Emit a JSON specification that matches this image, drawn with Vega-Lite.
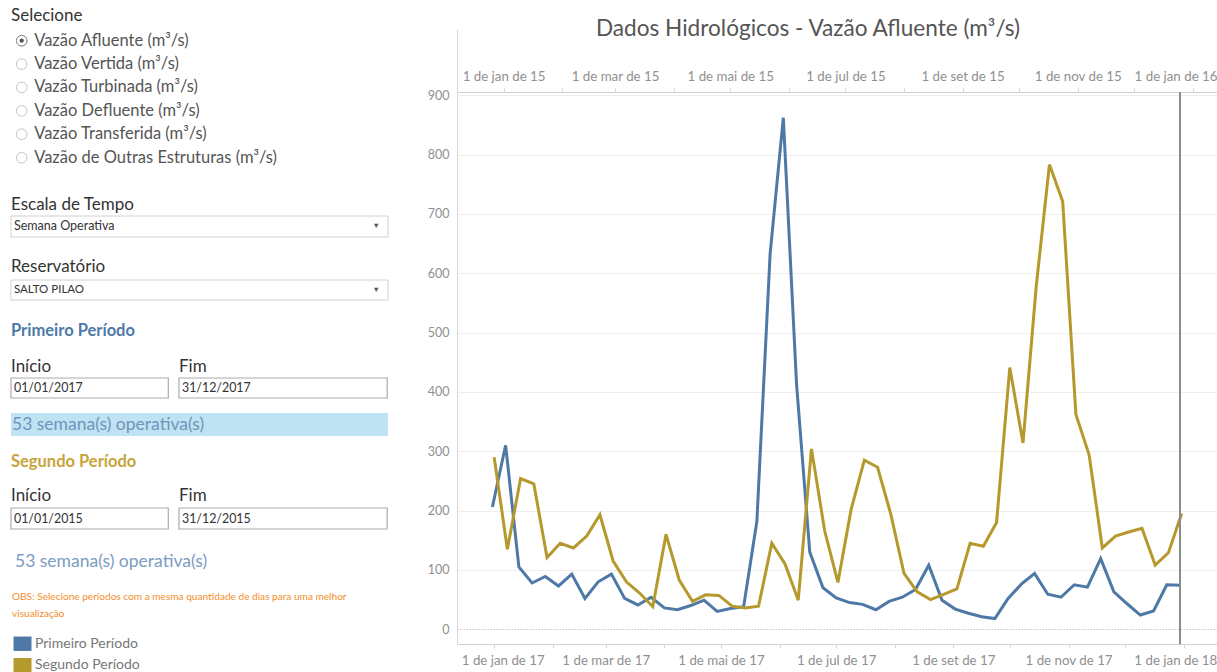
{
  "$schema": "https://vega.github.io/schema/vega-lite/v6.json",
  "background": "white",
  "padding": {"left": 10, "top": 7, "right": 0, "bottom": 0},
  "spacing": 38,
  "config": {
    "view": {"stroke": null},
    "font": "Lato",
    "text": {"font": "Lato"},
    "title": {"font": "Lato", "fontWeight": "normal", "anchor": "start", "frame": "group", "color": "#333333"}
  },
  "datasets": {
    "opcoes": [
      {"opcao": "Vazão Afluente (m³/s)", "selecionado": true},
      {"opcao": "Vazão Vertida (m³/s)", "selecionado": false},
      {"opcao": "Vazão Turbinada (m³/s)", "selecionado": false},
      {"opcao": "Vazão Defluente (m³/s)", "selecionado": false},
      {"opcao": "Vazão Transferida (m³/s)", "selecionado": false},
      {"opcao": "Vazão de Outras Estruturas (m³/s)", "selecionado": false}
    ],
    "primeiro": [
      {"periodo": "Primeiro Período", "semana": "2016-12-31", "vazao": 206},
      {"periodo": "Primeiro Período", "semana": "2017-01-07", "vazao": 310},
      {"periodo": "Primeiro Período", "semana": "2017-01-14", "vazao": 105},
      {"periodo": "Primeiro Período", "semana": "2017-01-21", "vazao": 78},
      {"periodo": "Primeiro Período", "semana": "2017-01-28", "vazao": 89},
      {"periodo": "Primeiro Período", "semana": "2017-02-04", "vazao": 73},
      {"periodo": "Primeiro Período", "semana": "2017-02-11", "vazao": 93},
      {"periodo": "Primeiro Período", "semana": "2017-02-18", "vazao": 52},
      {"periodo": "Primeiro Período", "semana": "2017-02-25", "vazao": 80},
      {"periodo": "Primeiro Período", "semana": "2017-03-04", "vazao": 93},
      {"periodo": "Primeiro Período", "semana": "2017-03-11", "vazao": 52},
      {"periodo": "Primeiro Período", "semana": "2017-03-18", "vazao": 41},
      {"periodo": "Primeiro Período", "semana": "2017-03-25", "vazao": 54},
      {"periodo": "Primeiro Período", "semana": "2017-04-01", "vazao": 36},
      {"periodo": "Primeiro Período", "semana": "2017-04-08", "vazao": 33},
      {"periodo": "Primeiro Período", "semana": "2017-04-15", "vazao": 40},
      {"periodo": "Primeiro Período", "semana": "2017-04-22", "vazao": 49},
      {"periodo": "Primeiro Período", "semana": "2017-04-29", "vazao": 30},
      {"periodo": "Primeiro Período", "semana": "2017-05-06", "vazao": 35},
      {"periodo": "Primeiro Período", "semana": "2017-05-13", "vazao": 38},
      {"periodo": "Primeiro Período", "semana": "2017-05-20", "vazao": 182},
      {"periodo": "Primeiro Período", "semana": "2017-05-27", "vazao": 632},
      {"periodo": "Primeiro Período", "semana": "2017-06-03", "vazao": 862},
      {"periodo": "Primeiro Período", "semana": "2017-06-10", "vazao": 413},
      {"periodo": "Primeiro Período", "semana": "2017-06-17", "vazao": 130},
      {"periodo": "Primeiro Período", "semana": "2017-06-24", "vazao": 70},
      {"periodo": "Primeiro Período", "semana": "2017-07-01", "vazao": 53},
      {"periodo": "Primeiro Período", "semana": "2017-07-08", "vazao": 45},
      {"periodo": "Primeiro Período", "semana": "2017-07-15", "vazao": 42},
      {"periodo": "Primeiro Período", "semana": "2017-07-22", "vazao": 33},
      {"periodo": "Primeiro Período", "semana": "2017-07-29", "vazao": 47},
      {"periodo": "Primeiro Período", "semana": "2017-08-05", "vazao": 54},
      {"periodo": "Primeiro Período", "semana": "2017-08-12", "vazao": 67},
      {"periodo": "Primeiro Período", "semana": "2017-08-19", "vazao": 108},
      {"periodo": "Primeiro Período", "semana": "2017-08-26", "vazao": 49},
      {"periodo": "Primeiro Período", "semana": "2017-09-02", "vazao": 34},
      {"periodo": "Primeiro Período", "semana": "2017-09-09", "vazao": 27},
      {"periodo": "Primeiro Período", "semana": "2017-09-16", "vazao": 21},
      {"periodo": "Primeiro Período", "semana": "2017-09-23", "vazao": 18},
      {"periodo": "Primeiro Período", "semana": "2017-09-30", "vazao": 52},
      {"periodo": "Primeiro Período", "semana": "2017-10-07", "vazao": 76},
      {"periodo": "Primeiro Período", "semana": "2017-10-14", "vazao": 94},
      {"periodo": "Primeiro Período", "semana": "2017-10-21", "vazao": 59},
      {"periodo": "Primeiro Período", "semana": "2017-10-28", "vazao": 54},
      {"periodo": "Primeiro Período", "semana": "2017-11-04", "vazao": 75},
      {"periodo": "Primeiro Período", "semana": "2017-11-11", "vazao": 71},
      {"periodo": "Primeiro Período", "semana": "2017-11-18", "vazao": 119},
      {"periodo": "Primeiro Período", "semana": "2017-11-25", "vazao": 63},
      {"periodo": "Primeiro Período", "semana": "2017-12-02", "vazao": 43},
      {"periodo": "Primeiro Período", "semana": "2017-12-09", "vazao": 24},
      {"periodo": "Primeiro Período", "semana": "2017-12-16", "vazao": 31},
      {"periodo": "Primeiro Período", "semana": "2017-12-23", "vazao": 75},
      {"periodo": "Primeiro Período", "semana": "2017-12-30", "vazao": 74}
    ],
    "segundo": [
      {"periodo": "Segundo Período", "semana": "2014-12-27", "vazao": 290},
      {"periodo": "Segundo Período", "semana": "2015-01-03", "vazao": 135},
      {"periodo": "Segundo Período", "semana": "2015-01-10", "vazao": 254},
      {"periodo": "Segundo Período", "semana": "2015-01-17", "vazao": 245},
      {"periodo": "Segundo Período", "semana": "2015-01-24", "vazao": 121},
      {"periodo": "Segundo Período", "semana": "2015-01-31", "vazao": 145},
      {"periodo": "Segundo Período", "semana": "2015-02-07", "vazao": 137},
      {"periodo": "Segundo Período", "semana": "2015-02-14", "vazao": 157},
      {"periodo": "Segundo Período", "semana": "2015-02-21", "vazao": 193},
      {"periodo": "Segundo Período", "semana": "2015-02-28", "vazao": 115},
      {"periodo": "Segundo Período", "semana": "2015-03-07", "vazao": 80},
      {"periodo": "Segundo Período", "semana": "2015-03-14", "vazao": 61},
      {"periodo": "Segundo Período", "semana": "2015-03-21", "vazao": 38},
      {"periodo": "Segundo Período", "semana": "2015-03-28", "vazao": 160},
      {"periodo": "Segundo Período", "semana": "2015-04-04", "vazao": 83},
      {"periodo": "Segundo Período", "semana": "2015-04-11", "vazao": 47},
      {"periodo": "Segundo Período", "semana": "2015-04-18", "vazao": 58},
      {"periodo": "Segundo Período", "semana": "2015-04-25", "vazao": 57},
      {"periodo": "Segundo Período", "semana": "2015-05-02", "vazao": 39},
      {"periodo": "Segundo Período", "semana": "2015-05-09", "vazao": 36},
      {"periodo": "Segundo Período", "semana": "2015-05-16", "vazao": 39},
      {"periodo": "Segundo Período", "semana": "2015-05-23", "vazao": 145},
      {"periodo": "Segundo Período", "semana": "2015-05-30", "vazao": 110},
      {"periodo": "Segundo Período", "semana": "2015-06-06", "vazao": 49},
      {"periodo": "Segundo Período", "semana": "2015-06-13", "vazao": 304},
      {"periodo": "Segundo Período", "semana": "2015-06-20", "vazao": 166},
      {"periodo": "Segundo Período", "semana": "2015-06-27", "vazao": 79},
      {"periodo": "Segundo Período", "semana": "2015-07-04", "vazao": 202},
      {"periodo": "Segundo Período", "semana": "2015-07-11", "vazao": 285},
      {"periodo": "Segundo Período", "semana": "2015-07-18", "vazao": 273},
      {"periodo": "Segundo Período", "semana": "2015-07-25", "vazao": 194},
      {"periodo": "Segundo Período", "semana": "2015-08-01", "vazao": 94},
      {"periodo": "Segundo Período", "semana": "2015-08-08", "vazao": 63},
      {"periodo": "Segundo Período", "semana": "2015-08-15", "vazao": 50},
      {"periodo": "Segundo Período", "semana": "2015-08-22", "vazao": 59},
      {"periodo": "Segundo Período", "semana": "2015-08-29", "vazao": 68},
      {"periodo": "Segundo Período", "semana": "2015-09-05", "vazao": 145},
      {"periodo": "Segundo Período", "semana": "2015-09-12", "vazao": 140},
      {"periodo": "Segundo Período", "semana": "2015-09-19", "vazao": 180},
      {"periodo": "Segundo Período", "semana": "2015-09-26", "vazao": 441},
      {"periodo": "Segundo Período", "semana": "2015-10-03", "vazao": 314},
      {"periodo": "Segundo Período", "semana": "2015-10-10", "vazao": 578},
      {"periodo": "Segundo Período", "semana": "2015-10-17", "vazao": 783},
      {"periodo": "Segundo Período", "semana": "2015-10-24", "vazao": 721},
      {"periodo": "Segundo Período", "semana": "2015-10-31", "vazao": 362},
      {"periodo": "Segundo Período", "semana": "2015-11-07", "vazao": 294},
      {"periodo": "Segundo Período", "semana": "2015-11-14", "vazao": 137},
      {"periodo": "Segundo Período", "semana": "2015-11-21", "vazao": 157},
      {"periodo": "Segundo Período", "semana": "2015-11-28", "vazao": 164},
      {"periodo": "Segundo Período", "semana": "2015-12-05", "vazao": 170},
      {"periodo": "Segundo Período", "semana": "2015-12-12", "vazao": 108},
      {"periodo": "Segundo Período", "semana": "2015-12-19", "vazao": 129},
      {"periodo": "Segundo Período", "semana": "2015-12-26", "vazao": 195}
    ]
  },
  "hconcat": [
    {
      "spacing": 0,
      "vconcat": [
        {
          "width": 21.4, "height": 167,
          "title": {"text": "Selecione", "fontSize": 17, "offset": 4},
          "data": {"name": "opcoes"},
          "encoding": {"y": {"field": "opcao", "type": "nominal", "sort": null, "axis": null, "scale": {"type": "band", "paddingInner": 0, "paddingOuter": 0.5684, "align": 0}}},
          "layer": [
            {"mark": {"type": "point", "shape": "circle", "filled": true, "fill": "white", "stroke": "#c4c4c4", "strokeWidth": 1, "size": 113, "opacity": 1}},
            {"transform": [{"filter": "datum.selecionado"}], "mark": {"type": "point", "shape": "circle", "filled": false, "stroke": "#8a8a8a", "strokeWidth": 1, "size": 113, "opacity": 1}},
            {"transform": [{"filter": "datum.selecionado"}], "mark": {"type": "point", "shape": "circle", "filled": true, "color": "#555555", "size": 18, "opacity": 1}},
            {"mark": {"type": "text", "align": "left", "dx": 12.5, "fontSize": 16.5, "color": "#555555"}, "encoding": {"text": {"field": "opcao"}}}
          ]
        },
        {
          "width": 377, "height": 41,
          "title": {"text": "Escala de Tempo", "fontSize": 17, "offset": 1.5},
          "data": {"values": [{"controle": "Escala de Tempo", "valor": "Semana Operativa"}]},
          "encoding": {"y": {"field": "controle", "type": "nominal", "axis": null, "scale": {"type": "band", "paddingInner": 0, "paddingOuter": 0.4762, "align": 0}}},
          "layer": [
            {"mark": {"type": "rect", "fill": "white", "stroke": "#d0d0d0", "strokeWidth": 1}},
            {"mark": {"type": "text", "align": "left", "dx": 3, "fontSize": 12.5, "color": "#333333"}, "encoding": {"x": {"field": "valor", "type": "nominal", "axis": null, "scale": {"type": "point", "padding": 0, "align": 0}}, "text": {"field": "valor"}}},
            {"mark": {"type": "text", "align": "right", "dx": -8, "fontSize": 7.5, "color": "#555555"}, "encoding": {"x": {"datum": "▼", "type": "nominal", "axis": null}, "text": {"value": "▼"}}}
          ]
        },
        {
          "width": 377, "height": 43,
          "title": {"text": "Reservatório", "fontSize": 17, "offset": 4},
          "data": {"values": [{"controle": "Reservatório", "valor": "SALTO PILAO"}]},
          "encoding": {"y": {"field": "controle", "type": "nominal", "axis": null, "scale": {"type": "band", "paddingInner": 0, "paddingOuter": 0.575, "align": 0}}},
          "layer": [
            {"mark": {"type": "rect", "fill": "white", "stroke": "#d0d0d0", "strokeWidth": 1}},
            {"mark": {"type": "text", "align": "left", "dx": 3, "fontSize": 11.5, "color": "#333333"}, "encoding": {"x": {"field": "valor", "type": "nominal", "axis": null, "scale": {"type": "point", "padding": 0, "align": 0}}, "text": {"field": "valor"}}},
            {"mark": {"type": "text", "align": "right", "dx": -8, "fontSize": 7.5, "color": "#555555"}, "encoding": {"x": {"datum": "▼", "type": "nominal", "axis": null}, "text": {"value": "▼"}}}
          ]
        },
        {
          "title": {"text": "Primeiro Período", "fontSize": 16.5, "fontWeight": "bold", "color": "#4e79a7", "offset": 18.2},
          "spacing": 9,
          "hconcat": [
            {
              "width": 157.3, "height": 35,
              "title": {"text": "Início", "fontSize": 17, "offset": 1.3},
              "data": {"values": [{"campo": "Início", "valor": "01/01/2017"}]},
              "encoding": {"y": {"field": "campo", "type": "nominal", "axis": null, "scale": {"type": "band", "paddingInner": 0, "paddingOuter": 0.375, "align": 0}}},
              "layer": [
                {"mark": {"type": "rect", "fill": "white", "stroke": "#ababab", "strokeWidth": 1.2}},
                {"mark": {"type": "text", "align": "left", "dx": 3, "fontSize": 12.4, "color": "#333333"}, "encoding": {"x": {"field": "valor", "type": "nominal", "axis": null, "scale": {"type": "point", "padding": 0, "align": 0}}, "text": {"field": "valor"}}}
              ]
            },
            {
              "width": 208.2, "height": 35,
              "title": {"text": "Fim", "fontSize": 17, "offset": 1.3},
              "data": {"values": [{"campo": "Fim", "valor": "31/12/2017"}]},
              "encoding": {"y": {"field": "campo", "type": "nominal", "axis": null, "scale": {"type": "band", "paddingInner": 0, "paddingOuter": 0.375, "align": 0}}},
              "layer": [
                {"mark": {"type": "rect", "fill": "white", "stroke": "#ababab", "strokeWidth": 1.2}},
                {"mark": {"type": "text", "align": "left", "dx": 3, "fontSize": 12.4, "color": "#333333"}, "encoding": {"x": {"field": "valor", "type": "nominal", "axis": null, "scale": {"type": "point", "padding": 0, "align": 0}}, "text": {"field": "valor"}}}
              ]
            }
          ]
        },
        {
          "width": 377, "height": 41,
          "data": {"values": [{"periodo": "Primeiro Período", "resumo": "53 semana(s) operativa(s)"}]},
          "encoding": {"y": {"field": "resumo", "type": "nominal", "axis": null, "scale": {"type": "band", "paddingInner": 0, "paddingOuter": 0.3913, "align": 0}}},
          "layer": [
            {"mark": {"type": "rect", "fill": "#bfe3f2"}},
            {"mark": {"type": "text", "align": "left", "dx": 1, "fontSize": 17.5, "color": "#6f94bb"}, "encoding": {"x": {"field": "resumo", "type": "nominal", "axis": null, "scale": {"type": "point", "padding": 0, "align": 0}}, "text": {"field": "resumo"}}}
          ]
        },
        {
          "title": {"text": "Segundo Período", "fontSize": 16.5, "fontWeight": "bold", "color": "#c6a43a", "offset": 16.2},
          "spacing": 9,
          "hconcat": [
            {
              "width": 157.3, "height": 43,
              "title": {"text": "Início", "fontSize": 17, "offset": 2.4},
              "data": {"values": [{"campo": "Início", "valor": "01/01/2015"}]},
              "encoding": {"y": {"field": "campo", "type": "nominal", "axis": null, "scale": {"type": "band", "paddingInner": 0, "paddingOuter": 0.5238, "align": 0}}},
              "layer": [
                {"mark": {"type": "rect", "fill": "white", "stroke": "#ababab", "strokeWidth": 1.2}},
                {"mark": {"type": "text", "align": "left", "dx": 3, "fontSize": 12.4, "color": "#333333"}, "encoding": {"x": {"field": "valor", "type": "nominal", "axis": null, "scale": {"type": "point", "padding": 0, "align": 0}}, "text": {"field": "valor"}}}
              ]
            },
            {
              "width": 208.2, "height": 43,
              "title": {"text": "Fim", "fontSize": 17, "offset": 2.4},
              "data": {"values": [{"campo": "Fim", "valor": "31/12/2015"}]},
              "encoding": {"y": {"field": "campo", "type": "nominal", "axis": null, "scale": {"type": "band", "paddingInner": 0, "paddingOuter": 0.5238, "align": 0}}},
              "layer": [
                {"mark": {"type": "rect", "fill": "white", "stroke": "#ababab", "strokeWidth": 1.2}},
                {"mark": {"type": "text", "align": "left", "dx": 3, "fontSize": 12.4, "color": "#333333"}, "encoding": {"x": {"field": "valor", "type": "nominal", "axis": null, "scale": {"type": "point", "padding": 0, "align": 0}}, "text": {"field": "valor"}}}
              ]
            }
          ]
        },
        {
          "width": 1, "height": 38,
          "data": {"values": [{"periodo": "Segundo Período", "resumo": "53 semana(s) operativa(s)"}]},
          "encoding": {"y": {"field": "resumo", "type": "nominal", "axis": null, "scale": {"type": "band", "paddingInner": 0, "paddingOuter": 0.3261, "align": 0}}, "text": {"field": "resumo"}},
          "mark": {"type": "text", "align": "left", "dx": 3.5, "fontSize": 17.5, "color": "#7b9cc2"}
        },
        {
          "width": 1, "height": 44,
          "data": {"values": [{"linha": "OBS: Selecione períodos com a mesma quantidade de dias para uma melhor"}, {"linha": "visualização"}]},
          "encoding": {"y": {"field": "linha", "type": "nominal", "sort": null, "axis": null, "scale": {"type": "band", "paddingInner": 0, "paddingOuter": 0.3253, "align": 0}}, "text": {"field": "linha"}},
          "mark": {"type": "text", "align": "left", "dx": 0.5, "fontSize": 10.1, "color": "#f28e2b"}
        },
        {
          "width": 23, "height": 43,
          "data": {"values": [{"periodo": "Primeiro Período"}, {"periodo": "Segundo Período"}]},
          "encoding": {"y": {"field": "periodo", "type": "nominal", "sort": null, "axis": null, "scale": {"type": "band", "paddingInner": 0, "paddingOuter": 0, "align": 0}}},
          "layer": [
            {"mark": {"type": "point", "shape": "M-1,-0.8H1V0.8H-1Z", "filled": true, "size": 324, "opacity": 1}, "encoding": {"color": {"field": "periodo", "type": "nominal", "scale": {"domain": ["Primeiro Período", "Segundo Período"], "range": ["#4e79a7", "#b6992d"]}, "legend": null}}},
            {"mark": {"type": "text", "align": "left", "dx": 12.5, "fontSize": 14, "color": "#777777"}, "encoding": {"text": {"field": "periodo"}}}
          ]
        }
      ]
    },
    {
      "width": 760, "height": 615,
      "title": {"text": "Dados Hidrológicos - Vazão Afluente (m³/s)", "anchor": "middle", "frame": "group", "fontSize": 22.6, "color": "#555555", "offset": -11.7, "dx": -29},
      "layer": [
        {
          "data": {"name": "primeiro"},
          "mark": {"type": "line", "strokeWidth": 3, "clip": true},
          "encoding": {
            "x": {"field": "semana", "type": "temporal", "scale": {"type": "utc", "domain": [{"year": 2016, "month": 12, "date": 12, "hours": 6, "utc": true}, {"year": 2018, "month": 1, "date": 18, "hours": 14, "utc": true}]},
              "axis": {"orient": "bottom", "title": null, "grid": false, "tickCount": {"interval": "month", "step": 1}, "labelOverlap": false, "labelFlush": 40, "labelFlushOffset": 33, "labelExpr": "utcmonth(datum.value) % 2 === 0 ? '1 de ' + ['jan','fev','mar','abr','mai','jun','jul','ago','set','out','nov','dez'][utcmonth(datum.value)] + ' de ' + utcFormat(datum.value, '%y') : ''", "labelFont": "Lato", "labelFontSize": 13.3, "labelColor": "#8f8f8f", "labelPadding": 5, "tickSize": 4, "tickColor": "#d6d6d6", "domainColor": "#d0d0d0"}},
            "y": {"field": "vazao", "type": "quantitative", "scale": {"domain": [-24.8, 1011.5], "nice": false, "zero": false},
              "axis": {"title": null, "values": [0, 100, 200, 300, 400, 500, 600, 700, 800, 900], "ticks": false, "labelPadding": 8, "labelFont": "Lato", "labelFontSize": 12.5, "labelColor": "#8f8f8f", "domainColor": "#d9d9d9", "gridColor": {"condition": {"test": "datum.value === 0", "value": "#c4c4c4"}, "value": "#eeeeee"}, "gridDash": {"condition": {"test": "datum.value === 0", "value": [1.5, 1.5]}, "value": []}}},
            "color": {"field": "periodo", "type": "nominal", "scale": {"domain": ["Primeiro Período", "Segundo Período"], "range": ["#4e79a7", "#b6992d"]}, "legend": null}
          }
        },
        {
          "data": {"name": "segundo"},
          "mark": {"type": "line", "strokeWidth": 3, "clip": true},
          "encoding": {
            "x": {"field": "semana", "type": "temporal", "scale": {"type": "utc", "domain": [{"year": 2014, "month": 12, "date": 7, "hours": 8, "utc": true}, {"year": 2016, "month": 1, "date": 13, "hours": 17, "utc": true}]},
              "axis": {"orient": "top", "offset": -63, "title": null, "grid": false, "tickCount": {"interval": "month", "step": 1}, "labelOverlap": false, "labelFlush": 30, "labelFlushOffset": 24, "labelExpr": "utcmonth(datum.value) % 2 === 0 ? '1 de ' + ['jan','fev','mar','abr','mai','jun','jul','ago','set','out','nov','dez'][utcmonth(datum.value)] + ' de ' + utcFormat(datum.value, '%y') : ''", "labelFont": "Lato", "labelFontSize": 13.3, "labelColor": "#8f8f8f", "labelPadding": 5, "tickSize": 4, "tickColor": "#d6d6d6", "domainColor": "#d0d0d0"}},
            "y": {"field": "vazao", "type": "quantitative", "scale": {"domain": [-24.8, 1011.5], "nice": false, "zero": false},
              "axis": {"title": null, "values": [0, 100, 200, 300, 400, 500, 600, 700, 800, 900], "ticks": false, "labelPadding": 8, "labelFont": "Lato", "labelFontSize": 12.5, "labelColor": "#8f8f8f", "domainColor": "#d9d9d9", "gridColor": {"condition": {"test": "datum.value === 0", "value": "#c4c4c4"}, "value": "#eeeeee"}, "gridDash": {"condition": {"test": "datum.value === 0", "value": [1.5, 1.5]}, "value": []}}},
            "color": {"field": "periodo", "type": "nominal", "scale": {"domain": ["Primeiro Período", "Segundo Período"], "range": ["#4e79a7", "#b6992d"]}, "legend": null}
          }
        },
        {
          "data": {"values": [{"marco": "2017-12-30"}]},
          "mark": {"type": "rule", "color": "#8c8c8c", "strokeWidth": 2},
          "encoding": {
            "x": {"field": "marco", "type": "temporal", "scale": {"type": "utc", "domain": [{"year": 2016, "month": 12, "date": 12, "hours": 6, "utc": true}, {"year": 2018, "month": 1, "date": 18, "hours": 14, "utc": true}]}, "axis": null},
            "y": {"datum": 905.3, "type": "quantitative", "scale": {"domain": [-24.8, 1011.5], "nice": false, "zero": false},
              "axis": {"title": null, "values": [0, 100, 200, 300, 400, 500, 600, 700, 800, 900], "ticks": false, "labelPadding": 8, "labelFont": "Lato", "labelFontSize": 12.5, "labelColor": "#8f8f8f", "domainColor": "#d9d9d9", "gridColor": {"condition": {"test": "datum.value === 0", "value": "#c4c4c4"}, "value": "#eeeeee"}, "gridDash": {"condition": {"test": "datum.value === 0", "value": [1.5, 1.5]}, "value": []}}},
            "y2": {"datum": -24.8}
          }
        }
      ],
      "resolve": {"scale": {"x": "independent"}, "axis": {"x": "independent"}}
    }
  ]
}
